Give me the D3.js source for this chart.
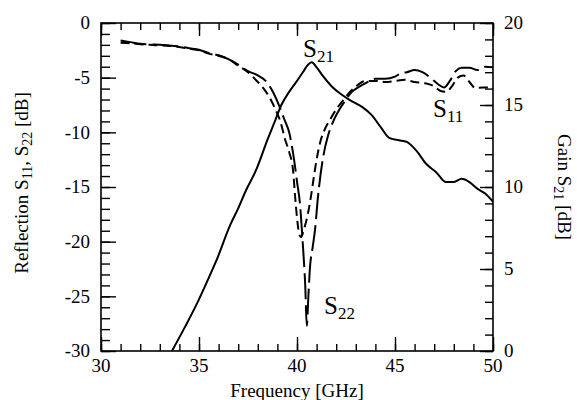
<!DOCTYPE html>
<html><head><meta charset="utf-8">
<script src="https://cdn.jsdelivr.net/npm/d3@7"></script>
<style>body{margin:0;background:#fff}svg{display:block}text{font-family:"Liberation Serif","Times New Roman",serif;fill:#000}</style>
</head><body>
<script>
// ---- data ----
const s11Freq = [31.0,31.5,32,32.5,33,33.5,34,34.5,35,35.5,36,36.5,37,37.5,38,38.3,38.6,38.9,39.15,39.4,39.6,39.8,39.9,40.0,40.1,40.2,40.3,40.4,40.55,40.7,40.85,41.0,41.2,41.4,41.7,42.0,42.3,42.6,43.0,43.5,44.0,44.5,45.0,45.5,46.0,46.5,47.0,47.3,47.6,47.9,48.2,48.5,48.8,49.1,49.5,50.0];
const s11Val  = [-1.8,-1.85,-1.95,-2.0,-2.05,-2.1,-2.2,-2.35,-2.5,-2.8,-3.0,-3.3,-3.9,-4.5,-5.4,-6.0,-6.8,-7.9,-9.0,-10.7,-11.8,-13.5,-15.8,-17.8,-19.2,-19.6,-19.2,-18.6,-17.5,-16.0,-14.2,-12.5,-10.8,-9.8,-8.8,-7.9,-7.2,-6.5,-5.8,-5.3,-5.3,-5.4,-5.3,-5.2,-5.4,-5.5,-5.8,-6.2,-6.3,-5.8,-5.0,-4.8,-5.4,-5.95,-5.9,-5.9];
const s22Freq = [31.0,31.5,32,32.5,33,33.5,34,34.5,35,35.5,36,36.5,37,37.5,38,38.4,38.8,39.1,39.35,39.6,39.85,40.0,40.15,40.3,40.42,40.5,40.58,40.66,40.8,40.92,41.07,41.33,41.6,41.9,42.2,42.5,42.8,43.2,43.6,44.0,44.5,45.0,45.3,45.6,46.0,46.4,46.8,47.2,47.5,47.8,48.1,48.4,48.8,49.2,49.6,50.0];
const s22Val  = [-1.6,-1.75,-1.9,-1.95,-2.0,-2.05,-2.15,-2.3,-2.45,-2.75,-2.95,-3.3,-3.8,-4.4,-4.8,-5.3,-6.4,-7.6,-8.8,-10.0,-12.5,-14.5,-16.5,-20.3,-24.0,-27.7,-25.0,-22.4,-20.5,-18.9,-15.9,-12.3,-10.2,-8.8,-7.8,-7.0,-6.3,-5.8,-5.4,-5.1,-5.1,-4.9,-4.6,-4.5,-4.3,-4.5,-5.0,-5.6,-5.9,-5.3,-4.4,-4.1,-4.1,-4.3,-4.0,-4.05];
const s21Freq = [33.62,34.3,34.9,35.4,35.9,36.6,37.0,37.4,37.9,38.5,38.9,39.2,39.6,39.9,40.3,40.6,40.75,41.0,41.3,41.8,42.2,42.7,43.3,43.8,44.3,44.7,45.2,45.6,46.1,46.6,47.1,47.6,48.0,48.4,48.8,49.2,49.6,50.0];
const s21Val  = [0,1.5,2.9,4.2,5.55,7.7,8.7,9.8,11.0,12.9,14.1,15.0,15.8,16.3,17.0,17.5,17.6,17.3,16.8,16.1,15.7,15.3,14.9,14.4,13.6,13.0,12.85,12.75,12.2,11.4,10.9,10.3,10.3,10.5,10.3,9.9,9.6,9.1];
const xTicks = [30,35,40,45,50];
const yLeftTicks = [0,-5,-10,-15,-20,-25,-30];
const yRightTicks = [0,5,10,15,20];

// ---- layout ----
const W = 577, H = 400;
const L = 101, R = 493, T = 23, B = 351;
const svg = d3.select("body").append("svg").attr("width", W).attr("height", H);
const x = d3.scaleLinear().domain([30,50]).range([L,R]);
const yL = d3.scaleLinear().domain([-30,0]).range([B,T]);
const yR = d3.scaleLinear().domain([0,20]).range([B,T]);

svg.append("clipPath").attr("id","clip").append("rect")
  .attr("x",L).attr("y",T).attr("width",R-L).attr("height",B-T);

// ---- axes (ticks inside) ----
function axisTicks(g, axisFn, scale, majors, minors, majLen, minLen) {
  g.call(axisFn(scale).tickValues(minors).tickSize(minLen).tickFormat(""))
   .call(s => s.select(".domain").remove());
  g.append("g").call(axisFn(scale).tickValues(majors).tickSize(majLen).tickFormat(""))
   .call(s => s.select(".domain").remove());
  g.selectAll("line").attr("stroke","#000").attr("stroke-width",1.4);
}
const xMinor = d3.range(30,51,1), lMinor = d3.range(-30,1,1), rMinor = d3.range(0,21,1);
axisTicks(svg.append("g").attr("transform",`translate(0,${B})`), d3.axisTop, x, xTicks, xMinor, 14, 7);
axisTicks(svg.append("g").attr("transform",`translate(0,${T})`), d3.axisBottom, x, xTicks, xMinor, 13, 7);
axisTicks(svg.append("g").attr("transform",`translate(${L},0)`), d3.axisRight, yL, yLeftTicks, lMinor, 15, 9);
axisTicks(svg.append("g").attr("transform",`translate(${R},0)`), d3.axisLeft, yR, yRightTicks, rMinor, 13, 8);

svg.append("rect").attr("x",L).attr("y",T).attr("width",R-L).attr("height",B-T)
  .attr("fill","none").attr("stroke","#000").attr("stroke-width",1.6);

// tick labels
svg.append("g").selectAll("text").data(xTicks).join("text")
  .attr("x", d => x(d)).attr("y", 372).attr("text-anchor","middle")
  .style("font-size","19px").text(d => d);
svg.append("g").selectAll("text").data(yLeftTicks).join("text")
  .attr("x", 90).attr("y", d => yL(d)).attr("dy","0.34em").attr("text-anchor","end")
  .style("font-size","19px").text(d => d);
svg.append("g").selectAll("text").data(yRightTicks).join("text")
  .attr("x", 504).attr("y", d => yR(d)).attr("dy","0.34em").attr("text-anchor","start")
  .style("font-size","19px").text(d => d);

// ---- curves ----
const gC = svg.append("g").attr("clip-path","url(#clip)");
const lineL = d3.line().x(d => x(d[0])).y(d => yL(d[1])).curve(d3.curveMonotoneX);
const lineR = d3.line().x(d => x(d[0])).y(d => yR(d[1])).curve(d3.curveMonotoneX);
gC.append("path").datum(d3.zip(s21Freq, s21Val)).attr("d", lineR)
  .attr("fill","none").attr("stroke","#000").attr("stroke-width",2);
gC.append("path").datum(d3.zip(s11Freq, s11Val)).attr("d", lineL)
  .attr("fill","none").attr("stroke","#000").attr("stroke-width",2).attr("stroke-dasharray","9,5");
gC.append("path").datum(d3.zip(s22Freq, s22Val)).attr("d", lineL)
  .attr("fill","none").attr("stroke","#000").attr("stroke-width",2).attr("stroke-dasharray","26,6");

// ---- curve labels ----
function sLabel(px, py, sub) {
  const t = svg.append("text").attr("x", px).attr("y", py).style("font-size","25px");
  t.append("tspan").text("S");
  t.append("tspan").attr("dy", 5).style("font-size","17px").text(sub);
}
sLabel(303, 57, "21");
sLabel(433, 117, "11");
sLabel(324, 314, "22");

// ---- axis titles ----
svg.append("text").attr("x", (L+R)/2).attr("y", 397).attr("text-anchor","middle")
  .style("font-size","19px").text("Frequency [GHz]");
const tl = svg.append("text").attr("transform", `translate(28,${(T+B)/2-4}) rotate(-90)`)
  .attr("text-anchor","middle").style("font-size","19px");
tl.append("tspan").text("Reflection S");
tl.append("tspan").attr("dy",4).style("font-size","14px").text("11");
tl.append("tspan").attr("dy",-4).text(", S");
tl.append("tspan").attr("dy",4).style("font-size","14px").text("22");
tl.append("tspan").attr("dy",-4).text(" [dB]");
const tr = svg.append("text").attr("transform", `translate(558,${(T+B)/2}) rotate(90)`)
  .attr("text-anchor","middle").style("font-size","19px");
tr.append("tspan").text("Gain S");
tr.append("tspan").attr("dy",4).style("font-size","14px").text("21");
tr.append("tspan").attr("dy",-4).text(" [dB]");
</script>
</body></html>
